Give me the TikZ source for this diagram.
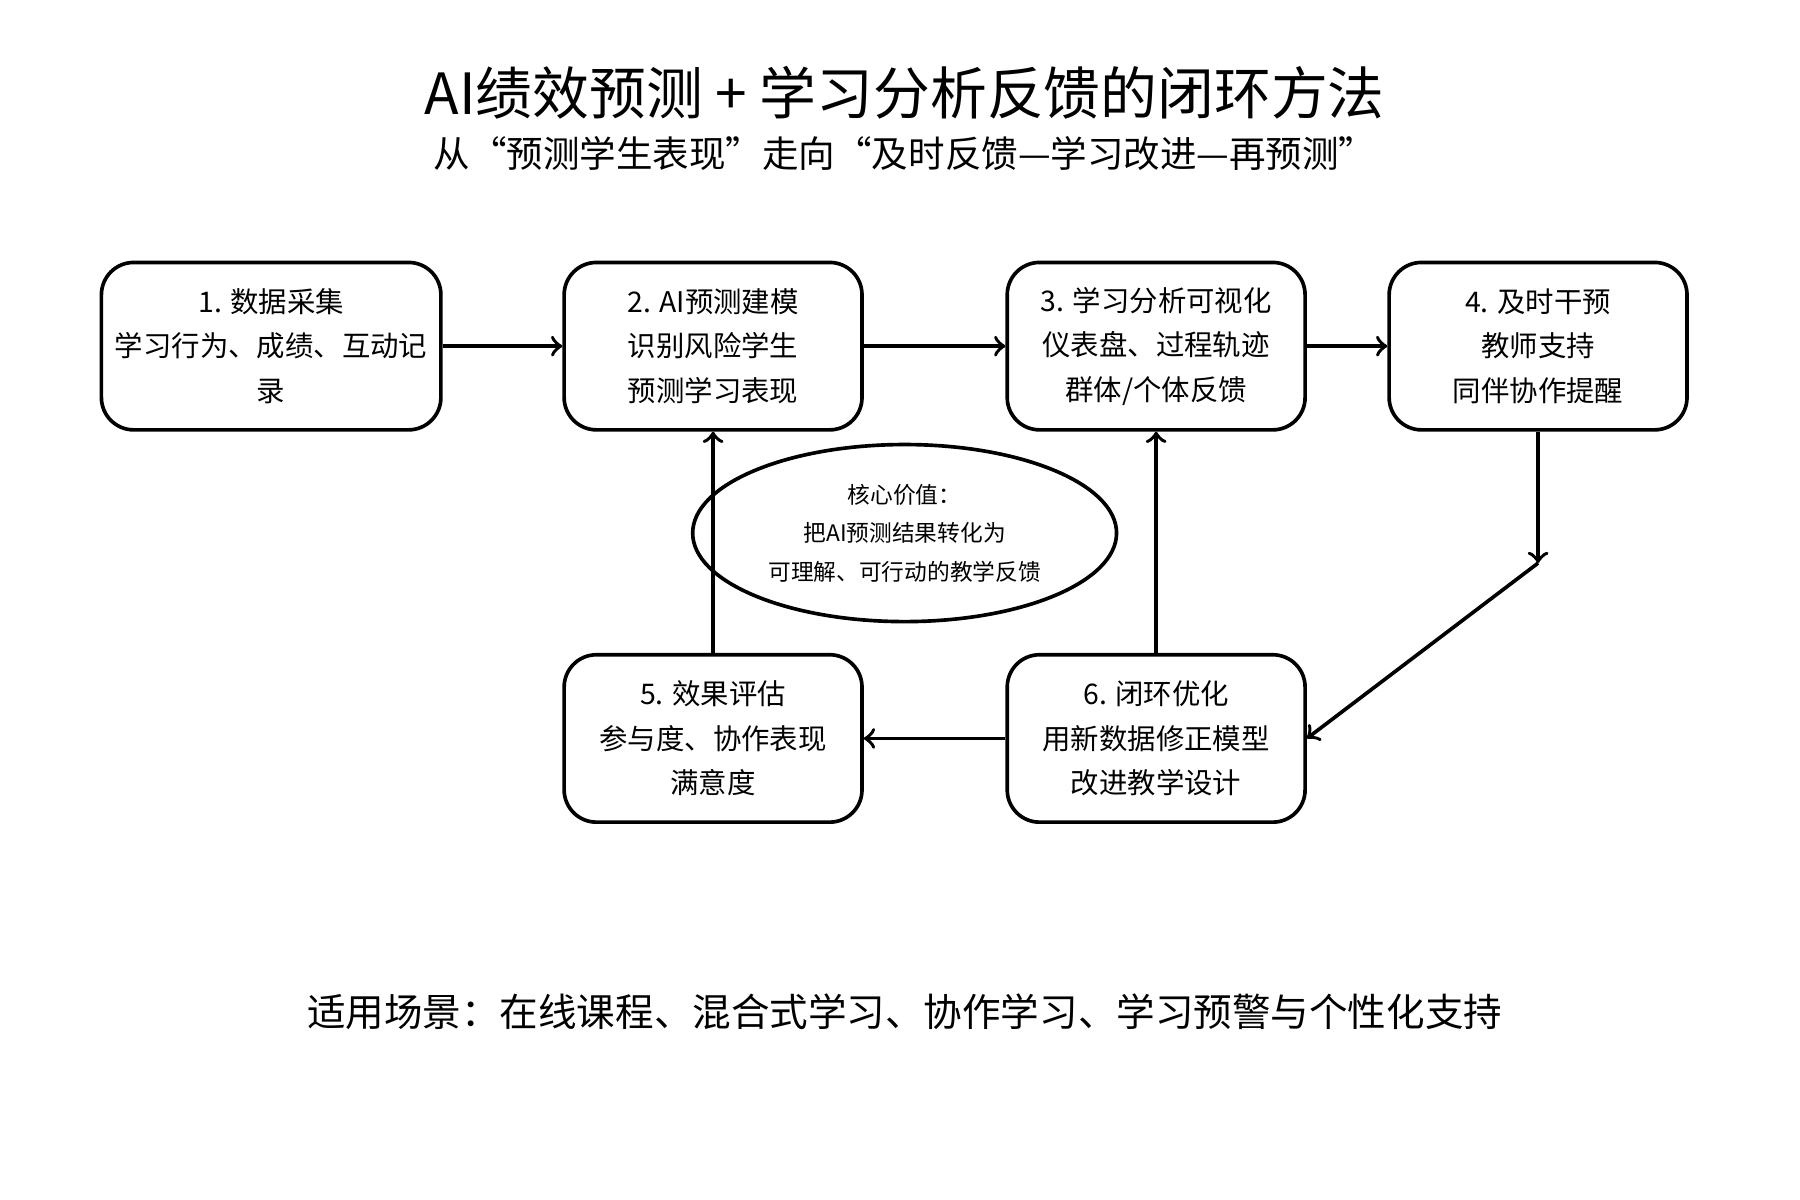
\documentclass[tikz,border=0pt]{standalone}
\usepackage{fontspec}
\setmainfont{Noto Sans CJK SC}
\usetikzlibrary{shapes.geometric}
\tikzstyle{stepbox} = [draw,line width=0.9pt,rounded corners=0.28cm,
    minimum width=2.58cm,minimum height=1.45cm,align=center,
    font=\fontsize{7pt}{11pt}\selectfont]
\tikzstyle{flow} = [->,line width=0.9pt]
\begin{document}
\begin{tikzpicture}[x=0.01cm,y=-0.01cm]
	\useasboundingbox (0,0) rectangle (1560,1040);
	\node(title) at (784,80) {\fontsize{14pt}{16pt}\selectfont AI绩效预测 + 学习分析反馈的闭环方法};
	\node(subtitle) at (784,133) {\fontsize{9pt}{11pt}\selectfont 从“预测学生表现”走向“及时反馈—学习改进—再预测”};
	
	\node(collect) [stepbox] at (235,300) {1. 数据采集\\学习行为、成绩、互动记\\录};
	\node(predict) [stepbox] at (618,300) {2. AI预测建模\\识别风险学生\\预测学习表现};
	\node(visual) [stepbox] at (1002,300) {3. 学习分析可视化\\仪表盘、过程轨迹\\群体/个体反馈};
	\node(support) [stepbox] at (1333,300) {4. 及时干预\\教师支持\\同伴协作提醒};
	\node(evaluate) [stepbox] at (618,640) {5. 效果评估\\参与度、协作表现\\满意度};
	\node(optimize) [stepbox] at (1002,640) {6. 闭环优化\\用新数据修正模型\\改进教学设计};
	
	\node(core) [draw,line width=0.9pt,ellipse,minimum width=3.02cm,minimum height=1.12cm,align=center,
		font=\fontsize{5.6pt}{9.5pt}\selectfont] at (784,462) {核心价值：\\把AI预测结果转化为\\可理解、可行动的教学反馈};
	
	\coordinate(bend) at (1333,488);
	\draw[flow] (collect) -- (predict);
	\draw[flow] (predict) -- (visual);
	\draw[flow] (visual) -- (support);
	\draw[flow] (support) -- (bend);
	\draw[flow] (bend) -- (optimize.east);
	\draw[flow] (optimize) -- (evaluate);
	\draw[flow] (evaluate) -- (predict);
	\draw[flow] (optimize) -- (visual);
	
	\node(scene) at (784,877) {\fontsize{9.5pt}{11pt}\selectfont 适用场景：在线课程、混合式学习、协作学习、学习预警与个性化支持};
\end{tikzpicture}
\end{document}
